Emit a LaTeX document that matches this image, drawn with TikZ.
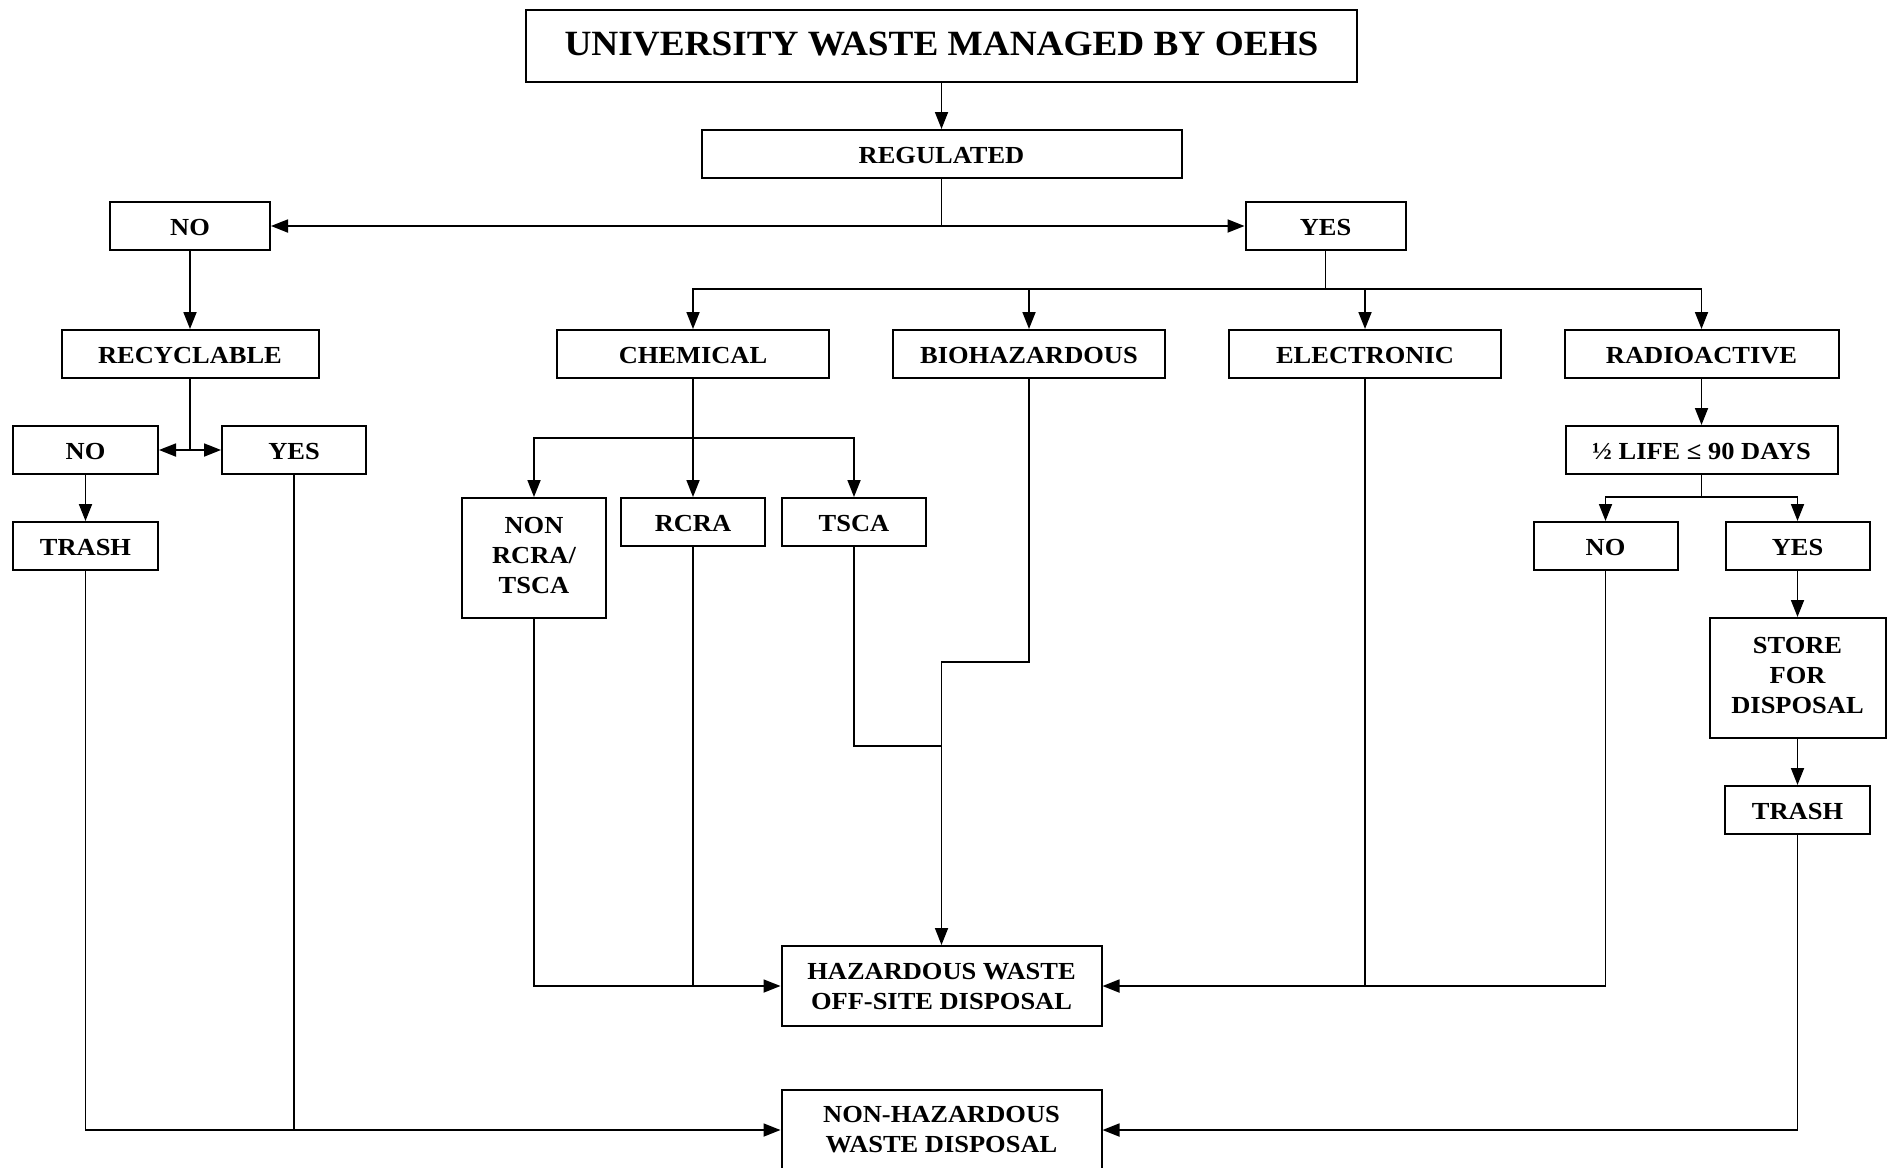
\documentclass[tikz,border=0pt]{standalone}
\usepackage{fontspec}
\setmainfont{Liberation Serif}
\newfontfamily\boxfont{Liberation Serif}[FakeStretch=1.08]
\newfontfamily\titlefont{Liberation Serif}[FakeStretch=1.05]
\usetikzlibrary{arrows.meta}
\begin{document}
\begin{tikzpicture}[x=1pt,y=-1pt,
  base/.style={draw, line width=2pt, inner sep=0pt,
    font=\boxfont\bfseries\fontsize{24.5}{30}\selectfont},
  box/.style={base, text height=18pt, text depth=0pt},
  multi/.style={base, align=center},
  conn/.style={line width=1.8pt},
  arr/.style={conn, -{Triangle[length=17pt,width=13pt]}}]
\useasboundingbox (0,0) rectangle (1887,1167);
\clip (0,0) rectangle (1887,1167);
\fill[white] (0,0) rectangle (1887,1167);
% nodes
\node[base, minimum width=831pt, minimum height=72pt,
  font=\titlefont\bfseries\fontsize{35.5}{40}\selectfont] (title) at (941.5,46) {\raisebox{4pt}{UNIVERSITY WASTE MANAGED BY OEHS}};
\node[box, minimum width=480pt, minimum height=48pt] (reg) at (941.5,154) {REGULATED};
\node[box, minimum width=160pt, minimum height=48pt] (no1) at (190,226) {NO};
\node[box, minimum width=160pt, minimum height=48pt] (yes1) at (1325.5,226) {YES};
\node[box, minimum width=257pt, minimum height=48pt] (recy) at (190,354) {RECYCLABLE};
\node[box, minimum width=272pt, minimum height=48pt] (chem) at (693,354) {CHEMICAL};
\node[box, minimum width=272pt, minimum height=48pt] (bio) at (1029,354) {BIOHAZARDOUS};
\node[box, minimum width=272pt, minimum height=48pt] (elec) at (1365,354) {ELECTRONIC};
\node[box, minimum width=274pt, minimum height=48pt] (radio) at (1701.5,354) {RADIOACTIVE};
\node[box, minimum width=145pt, minimum height=48pt] (no2) at (85.5,450) {NO};
\node[box, minimum width=144pt, minimum height=48pt] (yes2) at (294,450) {YES};
\node[box, minimum width=145pt, minimum height=48pt] (trash1) at (85.5,546) {TRASH};
\node[multi, minimum width=144pt, minimum height=120pt, text depth=5pt] (nonrcra) at (534,558) {NON\\RCRA/\\TSCA};
\node[box, minimum width=144pt, minimum height=48pt] (rcra) at (693,522) {RCRA};
\node[box, minimum width=144pt, minimum height=48pt] (tsca) at (854,522) {TSCA};
\node[box, minimum width=272pt, minimum height=48pt] (half) at (1701.5,450) {½ LIFE ≤ 90 DAYS};
\node[box, minimum width=144pt, minimum height=48pt] (no3) at (1605.5,546) {NO};
\node[box, minimum width=144pt, minimum height=48pt] (yes3) at (1797.5,546) {YES};
\node[multi, minimum width=176pt, minimum height=120pt, text depth=5pt] (store) at (1797.5,678) {STORE\\FOR\\DISPOSAL};
\node[box, minimum width=145pt, minimum height=48pt] (trash2) at (1797.5,810) {TRASH};
\node[multi, minimum width=320pt, minimum height=80pt] (haz) at (941.5,986) {HAZARDOUS WASTE\\OFF-SITE DISPOSAL};
\node[multi, minimum width=320pt, minimum height=80pt] (nonhaz) at (941.5,1130) {NON-HAZARDOUS\\WASTE DISPOSAL};
% bus coordinates
\coordinate (ybus) at (0,289);
\coordinate (cbus) at (0,438);
\coordinate (hbus) at (0,497);
\coordinate (jb) at (0,662);
\coordinate (jt) at (0,746);
% connectors
\draw[arr] (title.south) -- (reg.north);
\draw[arr] (reg.south) |- (no1.east);
\draw[arr] (reg.south) |- (yes1.west);
\draw[arr] (no1.south) -- (recy.north);
\draw[conn] (yes1.south) -- (yes1.south |- ybus);
\draw[arr] (yes1.south |- ybus) -| (chem.north);
\draw[arr] (yes1.south |- ybus) -| (bio.north);
\draw[arr] (yes1.south |- ybus) -| (elec.north);
\draw[arr] (yes1.south |- ybus) -| (radio.north);
\draw[arr] (recy.south) |- (no2.east);
\draw[arr] (recy.south) |- (yes2.west);
\draw[arr] (no2.south) -- (trash1.north);
\draw[arr] (trash1.south) |- (nonhaz.west);
\draw[conn] (yes2.south) -- (yes2.south |- nonhaz.west);
\draw[conn] (chem.south) -- (chem.south |- cbus);
\draw[arr] (chem.south |- cbus) -| (nonrcra.north);
\draw[arr] (chem.south |- cbus) -| (tsca.north);
\draw[arr] (chem.south) -- (rcra.north);
\draw[arr] (nonrcra.south) |- (haz.west);
\draw[conn] (rcra.south) -- (rcra.south |- haz.west);
\draw[conn] (tsca.south) |- (haz.north |- jt);
\draw[arr] (bio.south) -- (bio.south |- jb) -| (haz.north);
\draw[arr] (no3.south) |- (haz.east);
\draw[conn] (elec.south) -- (elec.south |- haz.east);
\draw[arr] (radio.south) -- (half.north);
\draw[conn] (half.south) -- (half.south |- hbus);
\draw[arr] (half.south |- hbus) -| (no3.north);
\draw[arr] (half.south |- hbus) -| (yes3.north);
\draw[arr] (yes3.south) -- (store.north);
\draw[arr] (store.south) -- (trash2.north);
\draw[arr] (trash2.south) |- (nonhaz.east);
\end{tikzpicture}
\end{document}
